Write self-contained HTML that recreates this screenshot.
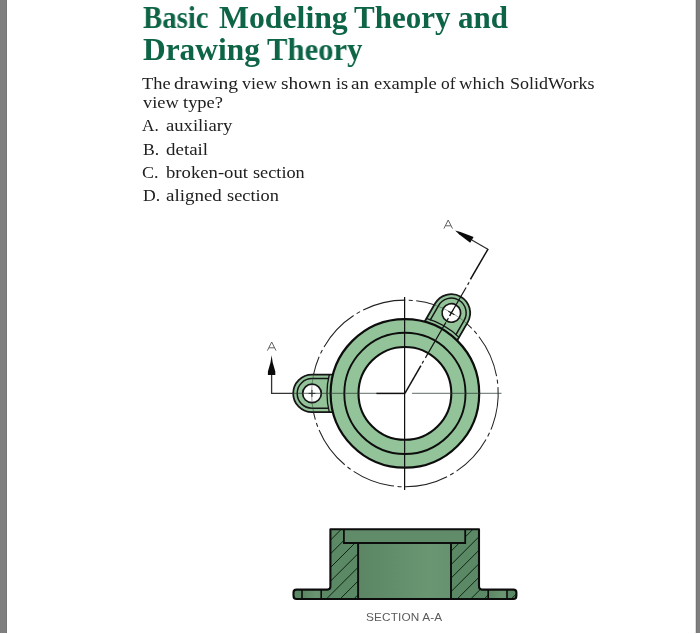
<!DOCTYPE html>
<html>
<head>
<meta charset="utf-8">
<title>Basic Modeling Theory and Drawing Theory</title>
<style>
html,body{margin:0;padding:0;}
body{width:700px;height:634px;background:#fff;position:relative;overflow:hidden;font-family:"Liberation Serif",serif;}
.barL{position:absolute;left:0;top:0;width:6.6px;height:632.5px;background:#7f7f7f;}
.barL:after{content:"";position:absolute;right:-0.8px;top:0;width:1.6px;height:100%;background:linear-gradient(to right,#6e6e6e,rgba(150,150,150,0));}
.barR{position:absolute;left:696px;top:0;width:4px;height:632.5px;background:#7f7f7f;}
.barR:before{content:"";position:absolute;left:-1.5px;top:0;width:2px;height:100%;background:linear-gradient(to left,#727272,rgba(150,150,150,0));}
.t{position:absolute;white-space:nowrap;line-height:1;margin:0;transform-origin:0 0;will-change:transform;filter:blur(0.3px);}
.title{font-weight:bold;font-size:31px;color:#0e6546;left:143px;}
.b{font-size:17px;color:#202020;left:143px;}
.o{left:166.5px;}
svg{position:absolute;left:0;top:0;filter:blur(0.35px);}
</style>
</head>
<body>
<div class="barL"></div>
<div class="barR"></div>

<!--TEXT-->
<div class="t title" style="left:143.3px;top:1.9px;transform:scaleX(0.929);">Basic</div>
<div class="t title" style="left:218.5px;top:1.9px;transform:scaleX(1.024);">Modeling</div>
<div class="t title" style="left:354.1px;top:1.9px;transform:scaleX(0.997);">Theory</div>
<div class="t title" style="left:457.8px;top:1.9px;transform:scaleX(0.990);">and</div>
<div class="t title" style="left:143.3px;top:33.7px;transform:scaleX(1.013);">Drawing</div>
<div class="t title" style="left:266.8px;top:33.7px;transform:scaleX(0.989);">Theory</div>
<div class="t b" style="left:141.8px;top:74.6px;transform:scaleX(1.082);">The</div>
<div class="t b" style="left:173.7px;top:74.6px;transform:scaleX(1.150);">drawing</div>
<div class="t b" style="left:241.7px;top:74.6px;transform:scaleX(1.056);">view</div>
<div class="t b" style="left:281.2px;top:74.6px;transform:scaleX(1.133);">shown</div>
<div class="t b" style="left:335.7px;top:74.6px;transform:scaleX(1.075);">is</div>
<div class="t b" style="left:351.2px;top:74.6px;transform:scaleX(1.122);">an</div>
<div class="t b" style="left:373.6px;top:74.6px;transform:scaleX(1.090);">example</div>
<div class="t b" style="left:440.7px;top:74.6px;transform:scaleX(1.023);">of</div>
<div class="t b" style="left:458.9px;top:74.6px;transform:scaleX(1.098);">which</div>
<div class="t b" style="left:509.6px;top:74.6px;transform:scaleX(1.059);">SolidWorks</div>
<div class="t b" style="left:142.7px;top:94.1px;transform:scaleX(1.083);">view</div>
<div class="t b" style="left:183.4px;top:93.8px;transform:scaleX(1.086);">type?</div>
<div class="t b" style="left:142.0px;top:116.9px;transform:scaleX(1.010);">A.</div>
<div class="t b" style="left:165.7px;top:116.9px;transform:scaleX(1.097);">auxiliary</div>
<div class="t b" style="left:142.5px;top:140.7px;transform:scaleX(1.039);">B.</div>
<div class="t b" style="left:166.2px;top:140.7px;transform:scaleX(1.115);">detail</div>
<div class="t b" style="left:142.2px;top:164.2px;transform:scaleX(1.058);">C.</div>
<div class="t b" style="left:165.7px;top:164.2px;transform:scaleX(1.099);">broken-out</div>
<div class="t b" style="left:253.1px;top:164.2px;transform:scaleX(1.074);">section</div>
<div class="t b" style="left:142.5px;top:187.3px;transform:scaleX(1.040);">D.</div>
<div class="t b" style="left:166.2px;top:187.3px;transform:scaleX(1.115);">aligned</div>
<div class="t b" style="left:226.6px;top:187.3px;transform:scaleX(1.078);">section</div>
<!--/TEXT-->

<svg width="700" height="634" viewBox="0 0 700 634">
  <defs>
    <clipPath id="hl"><path d="M330.4 529.2H343.9V543.0H358.1V599.0H321.2V589.6H330.4Z"/></clipPath>
    <clipPath id="hr"><path d="M479 529.2H465.2V543.0H451V599.0H488.2V589.6H479Z"/></clipPath>
    <clipPath id="hll"><path d="M293.5 589.6H302V599.0H293.5Z"/></clipPath>
    <clipPath id="hrr"><path d="M507 589.6H516.4V599.0H507Z"/></clipPath>
    <linearGradient id="bore" x1="0" x2="1" y1="0" y2="0">
      <stop offset="0" stop-color="#5b8563"/>
      <stop offset="0.75" stop-color="#6a9672"/>
      <stop offset="1" stop-color="#67926f"/>
    </linearGradient>
  </defs>

  <!-- ================= TOP VIEW ================= -->
  <g id="topview" fill="none" stroke="#111" stroke-linecap="butt">
    <!-- phantom bolt circle (behind) -->
    <path d="M311.6 393.4A93.3 93.3 0 0 1 451.5 312.6" stroke="#222" stroke-width="1.05" stroke-dasharray="43.5 3.5 4 3.5" stroke-dashoffset="5.8"/>
    <path d="M451.5 312.6A93.3 93.3 0 1 1 311.6 393.4" stroke="#222" stroke-width="1.05" stroke-dasharray="43.5 3.5 4 3.5" stroke-dashoffset="17.7"/>
    <!-- lugs -->
    <g id="lugL">
      <path d="M335 374.6H312.0A18.8 18.8 0 0 0 312.0 412.2H335Z" fill="#92c399" stroke="#161616" stroke-width="1.8"/>
      <path d="M329 378.6H312.0A14.8 14.8 0 0 0 312.0 408.2H329" stroke="#161616" stroke-width="1.5"/>
      <path d="M329.3 374.5A78.5 78.5 0 0 0 329.3 412.3" stroke="#161616" stroke-width="1.3"/>
      <circle cx="312.0" cy="393.4" r="9.3" fill="#fff" stroke="#161616" stroke-width="1.7"/>
      <path d="M312.0 389.9V396.9M308.6 393.4H315.4" stroke="#222" stroke-width="1.0"/>
    </g>
    <g id="lugR" transform="rotate(120 404.9 393.4)">
      <path d="M335 374.6H312.0A18.8 18.8 0 0 0 312.0 412.2H335Z" fill="#92c399" stroke="#161616" stroke-width="1.8"/>
      <path d="M329 378.6H312.0A14.8 14.8 0 0 0 312.0 408.2H329" stroke="#161616" stroke-width="1.5"/>
      <path d="M329.3 374.5A78.5 78.5 0 0 0 329.3 412.3" stroke="#161616" stroke-width="1.3"/>
      <circle cx="312.0" cy="393.4" r="9.3" fill="#fff" stroke="#161616" stroke-width="1.7"/>
      <path d="M312.0 389.9V396.9M308.6 393.4H315.4" stroke="#222" stroke-width="1.0"/>
    </g>
    <!-- main body -->
    <circle cx="404.9" cy="393.4" r="74.3" fill="#92c399" stroke="#0d0d0d" stroke-width="2.2"/>
    <circle cx="404.9" cy="393.4" r="60.6" stroke="#0d0d0d" stroke-width="1.9"/>
    <circle cx="404.9" cy="393.4" r="46.4" fill="#fff" stroke="#0d0d0d" stroke-width="2.1"/>
    <!-- phantom circle portions visible over lugs -->
    <path d="M313.7 373.7A93.3 93.3 0 0 0 313.7 413.1M433.4 304.6A93.3 93.3 0 0 1 467.6 324.3" stroke="#1c3a24" stroke-opacity="0.5" stroke-width="0.9"/>
    <!-- centre lines -->
    <path d="M404.6 297V490" stroke="#101010" stroke-width="1.25"/>
    <path d="M292 393.4H376.9" stroke="#2c3a30" stroke-opacity="0.6" stroke-width="1.1"/>
    <path d="M411.9 393.4H501.5" stroke="#2c3a30" stroke-opacity="0.6" stroke-width="1.1"/>
    <path d="M376.4 393.4H404.9" stroke="#111" stroke-width="1.5"/>
    <!-- hole crosses -->
    <!-- section line A-A -->
    <path d="M271.6 374V393.4H293" stroke="#333" stroke-width="1.3"/>
    <path d="M404.9 393.4L420.9 365.7" stroke="#111" stroke-width="1.5"/>
    <path d="M422.1 363.5L423.6 360.9M425.4 357.9L445.9 322.4M446.9 320.7L448.4 318.1M449.6 315.9L466.1 287.5M467.6 284.9L469.1 282.3" stroke="#141414" stroke-width="1.15"/>
    <path d="M470.8 278.7L487.8 249.4" stroke="#0f0f0f" stroke-width="1.45" stroke-linecap="square"/>
    <path d="M487.8 249.2L471.8 240.0" stroke="#2a2a2a" stroke-width="1.15"/>
    <!-- arrows -->
    <path d="M271.6 355.3L272.7 362.5L275.3 371.5V374.9H267.9V371.5L270.5 362.5Z" fill="#0a0a0a" stroke="none"/>
    <path d="M455.2 230.4L460.5 232.0L473.6 236.9L470.2 242.8L459.0 234.3Z" fill="#0a0a0a" stroke="none"/>
  </g>

  <!-- ================= SECTION VIEW ================= -->
  <g id="section" fill="none">
    <path d="M330.4 529.2H479V586.6Q479 589.6 482 589.6H513.4Q516.4 589.6 516.4 592.6V595.4Q516.4 599.0 513.4 599.0H296.5Q293.5 599.0 293.5 595.4V592.6Q293.5 589.6 296.5 589.6H327.4Q330.4 589.6 330.4 586.6Z" fill="#5c8965"/>
    <rect x="358.1" y="543.0" width="92.9" height="56" fill="url(#bore)"/>
    <rect x="343.9" y="529.2" width="121.3" height="13.2" fill="#608c69"/>
    <rect x="302" y="589.6" width="19.2" height="8.8" fill="url(#bore)"/>
    <rect x="488.2" y="589.6" width="18.8" height="8.8" fill="url(#bore)"/>
    <!-- hatching -->
    <path d="M318.0 525.2L362.0 481.2M318.0 538.9L362.0 494.9M318.0 552.6L362.0 508.6M318.0 566.3L362.0 522.3M318.0 580.0L362.0 536.0M318.0 593.7L362.0 549.7M318.0 607.4L362.0 563.4M318.0 621.1L362.0 577.1M318.0 634.8L362.0 590.8M318.0 648.5L362.0 604.5M318.0 662.2L362.0 618.2M318.0 675.9L362.0 631.9" stroke="#0f2414" stroke-width="1" clip-path="url(#hl)"/>
    <path d="M448.0 513.7L492.0 469.7M448.0 527.2L492.0 483.2M448.0 540.7L492.0 496.7M448.0 554.2L492.0 510.2M448.0 567.7L492.0 523.7M448.0 581.2L492.0 537.2M448.0 594.7L492.0 550.7M448.0 608.2L492.0 564.2M448.0 621.7L492.0 577.7M448.0 635.2L492.0 591.2M448.0 648.7L492.0 604.7M448.0 662.2L492.0 618.2" stroke="#0f2414" stroke-width="1" clip-path="url(#hr)"/>
    <path d="M504.0 579.2L520.0 563.2M504.0 592.7L520.0 576.7M504.0 606.2L520.0 590.2M504.0 619.7L520.0 603.7M504.0 633.2L520.0 617.2M504.0 646.7L520.0 630.7" stroke="#0f2414" stroke-width="1" clip-path="url(#hrr)"/>
    <!-- outlines -->
    <path d="M330.4 529.2H479V586.6Q479 589.6 482 589.6H513.4Q516.4 589.6 516.4 592.6V595.4Q516.4 599.0 513.4 599.0H296.5Q293.5 599.0 293.5 595.4V592.6Q293.5 589.6 296.5 589.6H327.4Q330.4 589.6 330.4 586.6Z" stroke="#0c0c0c" stroke-width="2.1" stroke-linejoin="round"/>
    <path d="M343.9 529.2V543.0H465.2V529.2" stroke="#0c0c0c" stroke-width="1.8"/>
    <path d="M358.1 543.0V599.0M451 543.0V599.0" stroke="#0c0c0c" stroke-width="1.9"/>
    <path d="M302 589.6V599.0M321.2 589.6V599.0M488.2 589.6V599.0M507 589.6V599.0" stroke="#0c0c0c" stroke-width="1.6"/>
  </g>
  <!-- labels -->
  <path d="M267.4 350.6L271.7 342.0L276.0 350.6M269.0 347.8H274.4M443.9 228.6L448.2 220.0L452.5 228.6M445.5 225.8H450.9" fill="none" stroke="#5a5a5a" stroke-width="0.95" stroke-linejoin="miter"/>
</svg>

<div class="t" id="s1" style="font-family:'Liberation Sans',sans-serif;font-size:11.8px;color:#5c5c5c;letter-spacing:0.14px;left:365.5px;top:611.5px;">SECTION A-A</div>
</body>
</html>
